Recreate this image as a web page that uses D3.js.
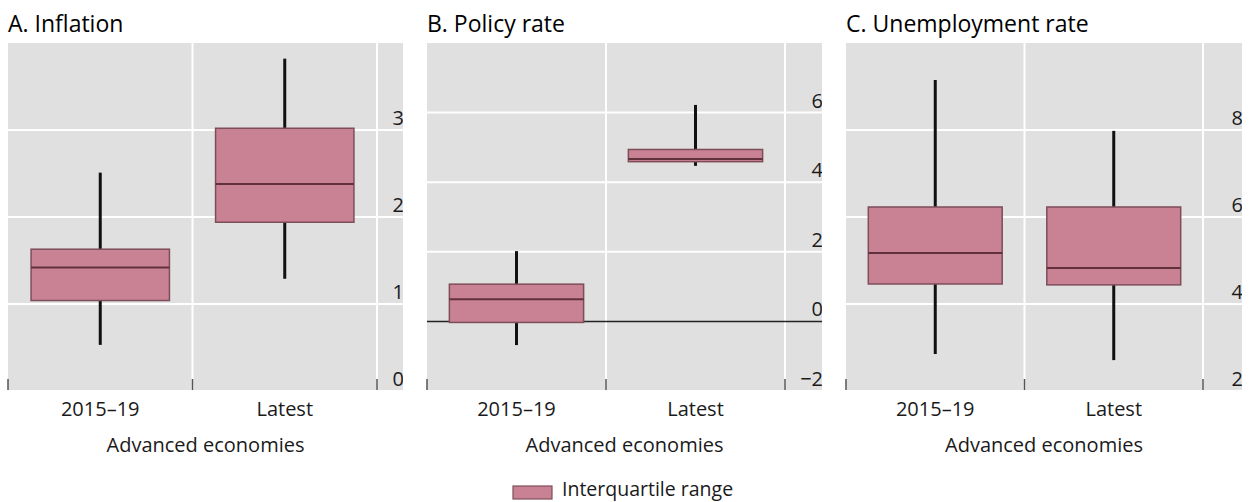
<!DOCTYPE html>
<html>
<head>
<meta charset="utf-8">
<script src="https://cdn.jsdelivr.net/npm/d3@7"></script>
<style>
  html, body { margin: 0; padding: 0; background: #ffffff; }
  svg { display: block; font-family: "Open Sans", "Noto Sans", sans-serif; }
</style>
</head>
<body>
<svg id="chart" width="1249" height="502"></svg>
<script>
// Period categories shared by every panel
const periods = ["2015–19", "Latest"];

// Box statistics per panel: lower whisker, first quartile, median, third quartile, upper whisker
const inflationLow    = [0.53, 1.29];
const inflationQ1     = [1.04, 1.94];
const inflationMedian = [1.42, 2.38];
const inflationQ3     = [1.63, 3.02];
const inflationHigh   = [2.51, 3.82];

const policyLow    = [-0.68, 4.47];
const policyQ1     = [-0.03, 4.59];
const policyMedian = [0.64, 4.67];
const policyQ3     = [1.07, 4.94];
const policyHigh   = [2.02, 6.22];

const unempLow    = [2.85, 2.71];
const unempQ1     = [4.46, 4.44];
const unempMedian = [5.17, 4.83];
const unempQ3     = [6.23, 6.23];
const unempHigh   = [9.15, 7.98];

// Axis ranges and tick labels
const inflationDomain = [0, 4];
const inflationTicks  = [0, 1, 2, 3];
const policyDomain = [-2, 8];
const policyTicks  = [-2, 0, 2, 4, 6];
const unempDomain = [2, 10];
const unempTicks  = [2, 4, 6, 8];

const panelTitles = ["A. Inflation", "B. Policy rate", "C. Unemployment rate"];
const groupLabel = "Advanced economies";
const legendLabel = "Interquartile range";

const COLORS = {
  panel: "#e0e0e0",
  grid: "#ffffff",
  box: "#c98294",
  boxEdge: "#7e4d5a",
  median: "#62303d",
  whisker: "#111111",
  text: "#1a1a1a",
  tick: "#555555"
};

function zipBoxes(low, q1, med, q3, high) {
  return periods.map((p, i) => ({ period: p, low: low[i], q1: q1[i], median: med[i], q3: q3[i], high: high[i] }));
}

const panels = [
  { title: panelTitles[0], left: 8,   plotRight: 377,  right: 403,  domain: inflationDomain, ticks: inflationTicks,
    boxes: zipBoxes(inflationLow, inflationQ1, inflationMedian, inflationQ3, inflationHigh), zeroLine: false },
  { title: panelTitles[1], left: 427, plotRight: 785,  right: 822,  domain: policyDomain, ticks: policyTicks,
    boxes: zipBoxes(policyLow, policyQ1, policyMedian, policyQ3, policyHigh), zeroLine: true },
  { title: panelTitles[2], left: 846, plotRight: 1203, right: 1242, domain: unempDomain, ticks: unempTicks,
    boxes: zipBoxes(unempLow, unempQ1, unempMedian, unempQ3, unempHigh), zeroLine: false }
];

const svg = d3.select("#chart");
const plotTop = 43, plotBottom = 390, scaleBottom = 391;

panels.forEach((p, idx) => {
  const g = svg.append("g");
  const x = d3.scaleBand().domain(periods).range([p.left, p.plotRight]).paddingInner(0).paddingOuter(0);
  const y = d3.scaleLinear().domain(p.domain).range([scaleBottom, plotTop]);

  const clipId = "clip" + idx;
  svg.append("clipPath").attr("id", clipId)
    .append("rect").attr("x", p.left).attr("y", plotTop).attr("width", p.right - p.left).attr("height", plotBottom - plotTop);

  // panel background
  g.append("rect").attr("x", p.left).attr("y", plotTop)
    .attr("width", p.right - p.left).attr("height", plotBottom - plotTop)
    .attr("fill", COLORS.panel);

  // horizontal gridlines (skip the frame edges)
  const inner = p.ticks.filter(t => t > p.domain[0] && t < p.domain[1] && !(p.zeroLine && t === 0));
  g.selectAll(".hgrid").data(inner).join("line")
    .attr("x1", p.left).attr("x2", p.right)
    .attr("y1", d => y(d)).attr("y2", d => y(d))
    .attr("stroke", COLORS.grid).attr("stroke-width", 2);

  // vertical gridlines at category boundaries
  const bounds = periods.map(c => x(c) + x.bandwidth());
  g.selectAll(".vgrid").data(bounds).join("line")
    .attr("x1", d => d).attr("x2", d => d)
    .attr("y1", plotTop).attr("y2", plotBottom)
    .attr("stroke", COLORS.grid).attr("stroke-width", 2);

  // category tick marks at the foot of the panel
  const tickXs = [p.left].concat(bounds);
  g.selectAll(".xtick").data(tickXs).join("line")
    .attr("x1", d => d).attr("x2", d => d)
    .attr("y1", plotBottom - 11).attr("y2", plotBottom)
    .attr("stroke", COLORS.tick).attr("stroke-width", 1.5);

  // zero line
  if (p.zeroLine) {
    g.append("line")
      .attr("x1", p.left).attr("x2", p.right)
      .attr("y1", y(0)).attr("y2", y(0))
      .attr("stroke", "#222").attr("stroke-width", 1.5);
  }

  const bw = x.bandwidth() * 0.75;
  const cx = d => x(d.period) + x.bandwidth() / 2;

  // whiskers
  g.selectAll(".whisker").data(p.boxes).join("line")
    .attr("x1", cx).attr("x2", cx)
    .attr("y1", d => y(d.high)).attr("y2", d => y(d.low))
    .attr("stroke", COLORS.whisker).attr("stroke-width", 3);

  // interquartile boxes
  g.selectAll(".box").data(p.boxes).join("rect")
    .attr("x", d => cx(d) - bw / 2).attr("width", bw)
    .attr("y", d => y(d.q3)).attr("height", d => y(d.q1) - y(d.q3))
    .attr("fill", COLORS.box).attr("stroke", COLORS.boxEdge).attr("stroke-width", 1.5);

  // medians
  g.selectAll(".median").data(p.boxes).join("line")
    .attr("x1", d => cx(d) - bw / 2).attr("x2", d => cx(d) + bw / 2)
    .attr("y1", d => y(d.median)).attr("y2", d => y(d.median))
    .attr("stroke", COLORS.median).attr("stroke-width", 2);

  // value axis labels on the right, clipped at the panel edge
  g.append("g").attr("clip-path", `url(#${clipId})`)
    .selectAll("text").data(p.ticks).join("text")
    .attr("x", p.right + 1).attr("y", d => y(d) - 5)
    .attr("text-anchor", "end")
    .attr("font-size", 20).attr("fill", COLORS.text)
    .text(d => d < 0 ? "\u2212" + Math.abs(d) : d);

  // panel title
  g.append("text").attr("x", p.left).attr("y", 32)
    .attr("font-size", 23).attr("fill", "#000").text(p.title);

  // category labels
  g.selectAll(".cat").data(periods).join("text")
    .attr("x", d => x(d) + x.bandwidth() / 2).attr("y", 416)
    .attr("text-anchor", "middle").attr("font-size", 20).attr("fill", COLORS.text)
    .text(d => d);

  // group label
  g.append("text").attr("x", (p.left + p.right) / 2).attr("y", 452)
    .attr("text-anchor", "middle").attr("font-size", 20).attr("fill", COLORS.text)
    .text(groupLabel);
});

// legend
const legend = svg.append("g");
legend.append("rect").attr("x", 513).attr("y", 486).attr("width", 39).attr("height", 13)
  .attr("fill", COLORS.box).attr("stroke", COLORS.boxEdge).attr("stroke-width", 1.2);
legend.append("text").attr("x", 562).attr("y", 496)
  .attr("font-size", 19.5).attr("fill", COLORS.text).text(legendLabel);
</script>
</body>
</html>
